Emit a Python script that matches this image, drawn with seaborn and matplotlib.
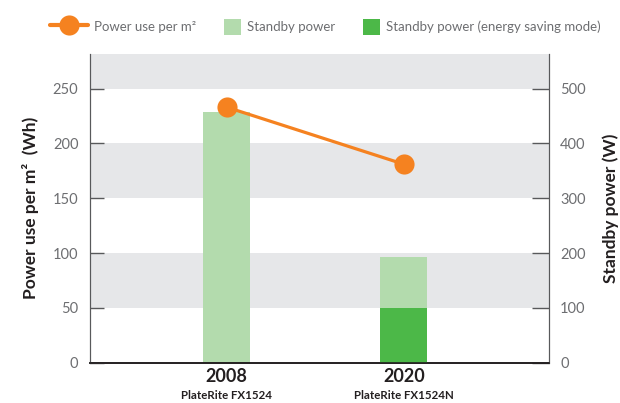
import matplotlib
matplotlib.use('Agg')
import matplotlib.pyplot as plt
import seaborn as sns
import pandas as pd
from matplotlib.lines import Line2D
from matplotlib.patches import Patch, Rectangle
from matplotlib.legend_handler import HandlerPatch

# data
years = ['2008', '2020']
models = ['PlateRite FX1524', 'PlateRite FX1524N']
power_per_m2 = [233, 181]          # Wh, left axis
standby_total = [458, 193]         # W, right axis
standby_saving = [0, 100]          # W, energy saving mode part

ORANGE = '#f58220'
LIGHT = '#b3dbad'
DARK = '#4cb848'
BAND = '#e6e7e9'
TICKC = '#6d6e71'
TXT = '#231f20'

sns.set_style('white')
plt.rcParams['font.family'] = ['Lato', 'DejaVu Sans']

df = pd.DataFrame({'year': years, 'power': power_per_m2,
                   'standby': standby_total, 'saving': standby_saving})

fig = plt.figure(figsize=(6.2, 4.03), dpi=100)
ax = fig.add_axes([0.1444, 0.1, 0.7411, 0.766])
ax2 = ax.twinx()

# bars live on the right axis, line axis drawn on top
ax.set_zorder(ax2.get_zorder() + 1)
ax.patch.set_visible(False)

for lo, hi in [(100, 200), (300, 400), (500, 600)]:
    ax2.axhspan(lo, hi, color=BAND, zorder=0, lw=0)

sns.barplot(data=df, x='year', y='standby', color=LIGHT, width=0.265,
            saturation=1, linewidth=0, ax=ax2, zorder=2)
sns.barplot(data=df, x='year', y='saving', color=DARK, width=0.265,
            saturation=1, linewidth=0, ax=ax2, zorder=3)

sns.lineplot(data=df, x='year', y='power', color=ORANGE, lw=2.3,
             marker='o', markersize=14.5, markeredgewidth=0, ax=ax, zorder=5)

ax.set_xlim(-0.775, 1.82)
ax2.set_xlim(-0.775, 1.82)
ax.set_ylim(0, 281.5)
ax2.set_ylim(0, 563)
ax.set_yticks([0, 50, 100, 150, 200, 250])
ax2.set_yticks([0, 100, 200, 300, 400, 500])

ax.tick_params(axis='y', direction='in', length=10, width=1, color='#58595b',
               labelcolor=TICKC, labelsize=10.5, pad=8)
ax2.tick_params(axis='y', direction='in', length=12, width=1, color='#58595b',
                labelcolor=TICKC, labelsize=10.5, pad=8)
ax.tick_params(axis='x', length=0, pad=4)
ax2.tick_params(axis='x', length=0)

ax.set_xticks([0, 1])
ax.set_xticklabels(years, fontsize=13, fontweight='bold', color=TXT)
for i, m in enumerate(models):
    ax.annotate(m, xy=(i, 0), xytext=(0, -23.5), textcoords='offset points',
                ha='center', va='center', fontsize=8.3, fontweight='bold',
                color=TXT, annotation_clip=False)

ax.set_xlabel('')
ax2.set_xlabel('')
ax.set_ylabel('Power use per m²  (Wh)', fontsize=12.5, fontweight='bold',
              color=TXT, labelpad=10)
ax2.set_ylabel('Standby power (W)', fontsize=12.5, fontweight='bold',
               color=TXT, labelpad=12)

for a in (ax, ax2):
    a.spines['top'].set_visible(False)
    a.spines['left'].set_color('#58595b')
    a.spines['right'].set_color('#58595b')
    a.spines['bottom'].set_color('#231f20')
    a.spines['bottom'].set_linewidth(1.2)


def square_patch(legend, orig_handle, xdescent, ydescent, width, height, fontsize):
    # square swatch pushed to the right end of the handle box
    return Rectangle((width - height - xdescent, -ydescent), height, height)


handles = [Line2D([0], [0], color=ORANGE, lw=3, marker='o', markersize=14.5,
                  markeredgewidth=0),
           Patch(facecolor=LIGHT, edgecolor='none'),
           Patch(facecolor=DARK, edgecolor='none')]
labels = ['Power use per m²', 'Standby power', 'Standby power (energy saving mode)']
fig.legend(handles, labels, loc='center left', bbox_to_anchor=(50 / 620, 0.933),
           ncol=3, frameon=False, fontsize=9.5, labelcolor=TICKC,
           handlelength=2.9, handleheight=1.6, handletextpad=0.45,
           columnspacing=0.5, borderpad=0, borderaxespad=0,
           handler_map={Patch: HandlerPatch(patch_func=square_patch)})

fig.savefig('out.png', dpi=100)
